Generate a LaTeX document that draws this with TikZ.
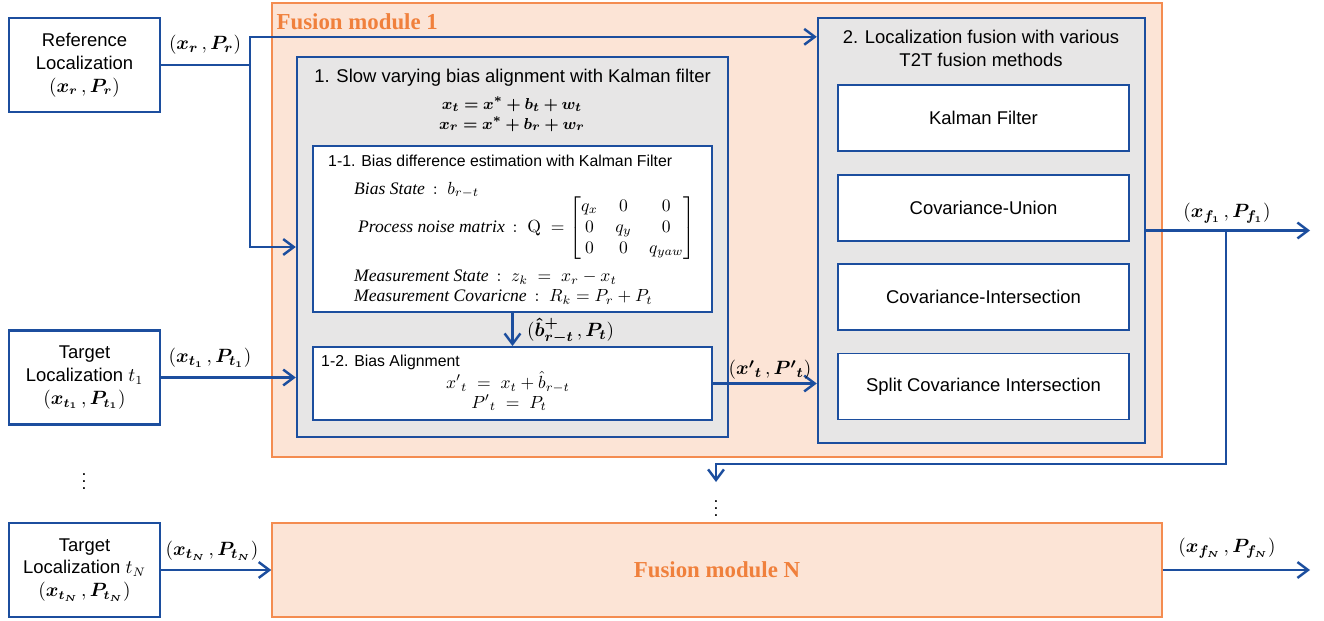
\documentclass[tikz,border=0pt]{standalone}
\usepackage{amsmath,bm}
\usepackage[no-math]{fontspec}
\setmainfont{Liberation Sans}
\newfontfamily\headfont{Liberation Serif}
\usetikzlibrary{arrows.meta,positioning}
\definecolor{lineblue}{RGB}{28,78,158}
\definecolor{fusline}{RGB}{244,140,80}
\definecolor{fusfill}{RGB}{252,228,214}
\definecolor{fustext}{RGB}{240,128,60}
\definecolor{stagegray}{RGB}{231,230,230}
\newcommand{\itword}[1]{\text{\headfont\itshape #1}}

\begin{document}
\begin{tikzpicture}[x=0.02cm,y=-0.02cm,
  srcbox/.style={draw=lineblue,line width=1.4pt,fill=white,minimum width=3.02cm,minimum height=1.88cm,inner sep=0pt,align=center,font=\fontsize{10.5}{13}\selectfont},
  fusbox/.style={draw=fusline,line width=0.9pt,fill=fusfill,minimum width=17.8cm,inner sep=0pt},
  stagebox/.style={draw=lineblue,line width=1.4pt,fill=stagegray,inner sep=0pt},
  subbox/.style={draw=lineblue,line width=1.1pt,fill=white,minimum width=7.98cm,inner sep=0pt},
  methbox/.style={draw=lineblue,line width=0.8pt,fill=white,minimum width=5.82cm,minimum height=1.32cm,inner sep=0pt,font=\fontsize{10.5}{13}\selectfont},
  fustitle/.style={text=fustext,font=\headfont\bfseries\fontsize{13}{15}\selectfont},
  ttl/.style={align=center,font=\fontsize{10.5}{13}\selectfont},
  subttl/.style={anchor=west,font=\fontsize{9}{11}\selectfont},
  eqn/.style={font=\fontsize{10}{12}\selectfont},
  sig/.style={font=\fontsize{11}{13}\selectfont},
  ln/.style={draw=lineblue,line width=1.4pt},
  arr/.style={ln,-{Straight Barb[length=6pt,width=9pt,line width=1.4pt]}}]
\useasboundingbox (0,0) rectangle (1324,621);

\node[srcbox] (ref) at (84.5,65) {Reference\\Localization\\$(\bm{x_r}\,,\bm{P_r})$};
\node[srcbox] (tgtone) at (84.5,377.5) {Target\\Localization $t_1$\\$(\bm{x_{t_1}}\,,\bm{P_{t_1}})$};
\node (ldots) at (84,476) {$\vdots$};
\node[srcbox] (tgtN) at (84.5,570) {Target\\Localization $t_N$\\$(\bm{x_{t_N}}\,,\bm{P_{t_N}})$};

\node[fusbox,minimum height=9.08cm] (fusone) at (717,230) {};
\node[fustitle,anchor=north west,inner sep=0pt] (fusonettl) at ([xshift=0.1cm,yshift=-0.22cm]fusone.north west) {Fusion module 1};

\node[stagebox,minimum width=8.62cm,minimum height=7.6cm] (slow) at (512.5,247) {};
\node[ttl,below=0.14cm of slow.north] (slowttl) {1. Slow varying bias alignment with Kalman filter};
\node[eqn,align=center,font=\fontsize{9.5}{11.5}\selectfont] (slowmodel) at (512,114) {$\bm{x_t = x^{*} + b_t + w_t}$\\$\bm{x_r = x^{*} + b_r + w_r}$};

\node[subbox,minimum height=3.32cm] (biasest) at (512.5,229) {};
\node[subttl] (biasestttl) at (322,161) {1-1. Bias difference estimation with Kalman Filter};
\node[eqn,anchor=west] (biasstate) at (348,190) {$\itword{Bias State}\,:\ b_{r-t}$};
\node[eqn,anchor=west] (procnoise) at (352,228) {$\itword{Process noise matrix}\,:\ \mathrm{Q}\ =\begin{bmatrix} q_x & 0 & 0\\ 0 & q_y & 0\\ 0 & 0 & q_{yaw}\end{bmatrix}$};
\node[eqn,anchor=west] (measstate) at (348,277) {$\itword{Measurement State}\,:\ z_k\ =\ x_r - x_t$};
\node[eqn,anchor=west] (meascov) at (348,297) {$\itword{Measurement Covaricne}\,:\ R_k = P_r + P_t$};

\node[subbox,minimum height=1.46cm] (biasal) at (512.5,383.5) {};
\node[subttl] (biasalttl) at (315,362) {1-2. Bias Alignment};
\node[eqn] (alignx) at (508,382) {$x'{}_t\ =\ x_t+\hat{b}_{r-t}$};
\node[eqn] (alignP) at (509,403) {$P'{}_t\ =\ P_t$};

\node[stagebox,minimum width=6.54cm,minimum height=8.5cm] (fusmeth) at (981.5,230.5) {};
\node[ttl] (fusmethttl) at (981,48) {2. Localization fusion with various\\T2T fusion methods};
\node[methbox] (kf) at (983.5,118) {Kalman Filter};
\node[methbox] (cu) at (983.5,208) {Covariance-Union};
\node[methbox] (ci) at (983.5,297) {Covariance-Intersection};
\node[methbox] (sci) at (983.5,386.5) {Split Covariance Intersection};

\node[fusbox,minimum height=1.88cm] (fusN) at (717,570) {};
\node[fustitle] (fusNttl) at (fusN) {Fusion module N};
\node (rdots) at (716,503) {$\vdots$};

\coordinate (refjoint) at (250,65); \coordinate (outone) at (1310,230.5);
\coordinate (branch) at (1226,230.5); \coordinate (turn) at (716,464); \coordinate (down) at (716,482);
\coordinate (outN) at (1310,570);

\draw[ln] (ref.east) -- (refjoint);
\draw[arr] (refjoint) |- ([yshift=-0.4cm]fusmeth.north west);
\draw[arr] (refjoint) |- (slow.west);
\draw[arr] (tgtone.east) -- (tgtone.east -| slow.west);
\draw[arr] (biasest.south) -- (biasal.north);
\draw[arr] (biasal.east) -- (biasal.east -| fusmeth.west);
\draw[arr] (fusmeth.east) -- (outone);
\draw[arr] (branch) |- (turn) -- (down);
\draw[arr] (tgtN.east) -- (fusN.west);
\draw[arr] (fusN.east) -- (outN);

\node[sig] (sigr) at (205,45) {$(\bm{x_r}\,,\bm{P_r})$};
\node[sig] (sigtone) at (210,358) {$(\bm{x_{t_1}}\,,\bm{P_{t_1}})$};
\node[sig] (sigtN) at (212,551) {$(\bm{x_{t_N}}\,,\bm{P_{t_N}})$};
\node[sig,anchor=west] (sigb) at (521,331) {$(\bm{\hat{b}^{+}_{r-t}}\,,\bm{P_t})$};
\node[sig] (sigxt) at (770,370) {$(\bm{x'{}_t}\,,\bm{P'{}_t})$};
\node[sig] (sigfone) at (1227,213) {$(\bm{x_{f_1}}\,,\bm{P_{f_1}})$};
\node[sig] (sigfN) at (1227,548) {$(\bm{x_{f_N}}\,,\bm{P_{f_N}})$};
\end{tikzpicture}
\end{document}
